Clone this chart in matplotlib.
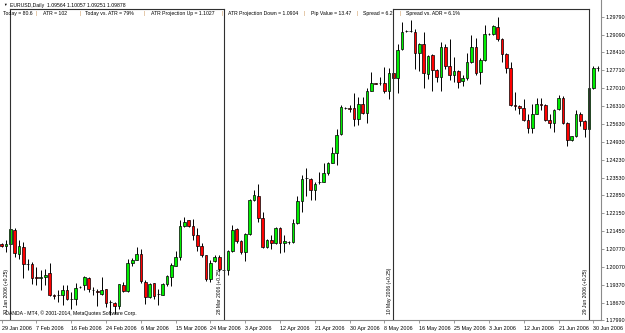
import numpy as np
import matplotlib.pyplot as plt
from matplotlib.transforms import blended_transform_factory

# === EURUSD Daily, 29 Jan 2006 .. 2 Jul 2006 (Sun-Fri bars) ===
opens = [1.2093, 1.2085, 1.2093, 1.2150, 1.2054, 1.2083, 1.2015, 1.2015, 1.1966, 1.1964,
         1.1966, 1.1980, 1.1895, 1.1897, 1.1897, 1.1915, 1.1880, 1.1880, 1.1927, 1.1934,
         1.1964, 1.1917, 1.1913, 1.1902, 1.1918, 1.1869, 1.1866, 1.1852, 1.1937, 1.1911,
         1.2021, 1.2034, 1.2054, 1.1947, 1.1889, 1.1943, 1.1901, 1.1898, 1.1940, 1.1966,
         1.2009, 1.2044, 1.2165, 1.2187, 1.2165, 1.2129, 1.2086, 1.2051, 1.1958, 1.2028,
         1.2044, 1.1992, 1.1992, 1.2066, 1.2152, 1.2106, 1.2063, 1.2135, 1.2265, 1.2282,
         1.2194, 1.2083, 1.2109, 1.2099, 1.2157, 1.2099, 1.2102, 1.2102, 1.2178, 1.2261,
         1.2350, 1.2349, 1.2304, 1.2336, 1.2336, 1.2371, 1.2411, 1.2450, 1.2521, 1.2622,
         1.2622, 1.2625, 1.2580, 1.2641, 1.2606, 1.2690, 1.2720, 1.2722, 1.2722, 1.2690,
         1.2759, 1.2739, 1.2852, 1.2924, 1.2924, 1.2921, 1.2836, 1.2872, 1.2756, 1.2830,
         1.2771, 1.2746, 1.2860, 1.2787, 1.2752, 1.2768, 1.2729, 1.2739, 1.2801, 1.2862,
         1.2762, 1.2810, 1.2912, 1.2911, 1.2940, 1.2891, 1.2832, 1.2781, 1.2637, 1.2631,
         1.2624, 1.2576, 1.2546, 1.2602, 1.2641, 1.2637, 1.2579, 1.2567, 1.2618, 1.2664,
         1.2567, 1.2498, 1.2514, 1.2599, 1.2572, 1.2543, 1.2703, 1.2778]
highs = [1.2097, 1.2110, 1.2158, 1.2158, 1.2110, 1.2103, 1.2038, 1.2025, 1.2005, 1.1993,
         1.1999, 1.2019, 1.1899, 1.1915, 1.1934, 1.1934, 1.1908, 1.1944, 1.1930, 1.1969,
         1.1966, 1.1927, 1.1921, 1.1966, 1.1921, 1.1875, 1.1869, 1.1941, 1.1947, 1.2038,
         1.2041, 1.2084, 1.2077, 1.1954, 1.1944, 1.1944, 1.1921, 1.1943, 1.1976, 1.2021,
         1.2067, 1.2187, 1.2200, 1.2190, 1.2191, 1.2158, 1.2099, 1.2053, 1.2031, 1.2051,
         1.2051, 1.1999, 1.2070, 1.2170, 1.2158, 1.2109, 1.2138, 1.2268, 1.2304, 1.2327,
         1.2220, 1.2116, 1.2129, 1.2161, 1.2161, 1.2129, 1.2106, 1.2193, 1.2281, 1.2363,
         1.2391, 1.2352, 1.2336, 1.2375, 1.2408, 1.2414, 1.2472, 1.2544, 1.2635, 1.2626,
         1.2635, 1.2684, 1.2667, 1.2667, 1.2700, 1.2762, 1.2723, 1.2746, 1.2785, 1.2778,
         1.2785, 1.2872, 1.2957, 1.2927, 1.2967, 1.2931, 1.2876, 1.2918, 1.2830, 1.2833,
         1.2775, 1.2882, 1.2872, 1.2891, 1.2823, 1.2771, 1.2752, 1.2839, 1.2908, 1.2895,
         1.2820, 1.2947, 1.2915, 1.2947, 1.2979, 1.2895, 1.2836, 1.2804, 1.2686, 1.2634,
         1.2657, 1.2602, 1.2641, 1.2661, 1.2661, 1.2638, 1.2602, 1.2618, 1.2674, 1.2670,
         1.2570, 1.2516, 1.2615, 1.2609, 1.2576, 1.2706, 1.2787, 1.2787]
lows = [1.2082, 1.2064, 1.2090, 1.2045, 1.2035, 1.1963, 1.1993, 1.1941, 1.1934, 1.1915,
        1.1934, 1.1892, 1.1882, 1.1869, 1.1856, 1.1876, 1.1843, 1.1856, 1.1925, 1.1915,
        1.1908, 1.1895, 1.1852, 1.1895, 1.1850, 1.1820, 1.1824, 1.1843, 1.1908, 1.1908,
        1.2008, 1.2032, 1.1944, 1.1862, 1.1885, 1.1882, 1.1856, 1.1895, 1.1933, 1.1933,
        1.2008, 1.2031, 1.2161, 1.2161, 1.2112, 1.2067, 1.2044, 1.1949, 1.1947, 1.2025,
        1.1988, 1.1973, 1.1973, 1.2063, 1.2099, 1.2057, 1.2028, 1.2128, 1.2261, 1.2181,
        1.2080, 1.2080, 1.2077, 1.2096, 1.2060, 1.2064, 1.2096, 1.2099, 1.2174, 1.2220,
        1.2281, 1.2265, 1.2265, 1.2330, 1.2336, 1.2362, 1.2408, 1.2401, 1.2518, 1.2618,
        1.2609, 1.2553, 1.2557, 1.2599, 1.2567, 1.2690, 1.2716, 1.2713, 1.2681, 1.2658,
        1.2735, 1.2683, 1.2850, 1.2920, 1.2921, 1.2775, 1.2768, 1.2700, 1.2735, 1.2690,
        1.2726, 1.2690, 1.2775, 1.2732, 1.2726, 1.2700, 1.2709, 1.2732, 1.2797, 1.2752,
        1.2719, 1.2807, 1.2908, 1.2908, 1.2885, 1.2804, 1.2761, 1.2632, 1.2615, 1.2602,
        1.2572, 1.2528, 1.2528, 1.2599, 1.2615, 1.2572, 1.2546, 1.2531, 1.2615, 1.2563,
        1.2475, 1.2495, 1.2511, 1.2554, 1.2511, 1.2537, 1.2698, 1.2767]
closes = [1.2085, 1.2093, 1.2152, 1.2058, 1.2087, 1.2015, 1.2016, 1.1963, 1.1964, 1.1966,
          1.1976, 1.1895, 1.1894, 1.1898, 1.1915, 1.1880, 1.1881, 1.1925, 1.1928, 1.1966,
          1.1918, 1.1916, 1.1908, 1.1917, 1.1866, 1.1868, 1.1852, 1.1938, 1.1911, 1.2021,
          1.2034, 1.2054, 1.1950, 1.1889, 1.1941, 1.1891, 1.1902, 1.1940, 1.1969, 1.2012,
          1.2044, 1.2165, 1.2181, 1.2165, 1.2129, 1.2086, 1.2051, 1.1958, 1.2021, 1.2044,
          1.1996, 1.1993, 1.2066, 1.2151, 1.2106, 1.2063, 1.2135, 1.2265, 1.2285, 1.2194,
          1.2083, 1.2109, 1.2099, 1.2157, 1.2099, 1.2105, 1.2103, 1.2178, 1.2261, 1.2346,
          1.2352, 1.2304, 1.2330, 1.2337, 1.2369, 1.2411, 1.2450, 1.2518, 1.2626, 1.2622,
          1.2621, 1.2580, 1.2641, 1.2606, 1.2690, 1.2720, 1.2719, 1.2723, 1.2690, 1.2759,
          1.2739, 1.2850, 1.2921, 1.2923, 1.2923, 1.2836, 1.2872, 1.2759, 1.2827, 1.2771,
          1.2746, 1.2860, 1.2787, 1.2752, 1.2768, 1.2726, 1.2739, 1.2804, 1.2862, 1.2761,
          1.2810, 1.2911, 1.2911, 1.2943, 1.2891, 1.2832, 1.2781, 1.2637, 1.2631, 1.2624,
          1.2576, 1.2546, 1.2602, 1.2641, 1.2635, 1.2579, 1.2567, 1.2615, 1.2664, 1.2567,
          1.2498, 1.2514, 1.2599, 1.2572, 1.2541, 1.2703, 1.2781, 1.2779]

# подписи оси времени (каждые 8 баров)
date_labels = ["29 Jan 2006", "7 Feb 2006", "16 Feb 2006", "24 Feb 2006", "6 Mar 2006",
               "15 Mar 2006", "24 Mar 2006", "3 Apr 2006", "12 Apr 2006", "21 Apr 2006",
               "30 Apr 2006", "8 May 2006", "16 May 2006", "25 May 2006", "3 Jun 2006",
               "12 Jun 2006", "21 Jun 2006", "30 Jun 2006"]
price_ticks = [1.29790, 1.29090, 1.28410, 1.27710, 1.27010, 1.26310, 1.25630, 1.24930,
               1.24230, 1.23530, 1.22850, 1.22150, 1.21450, 1.20770, 1.20070, 1.19370,
               1.18670, 1.17990]

# вертикальные линии (индекс бара, подпись)
vline_bars = [2, 51, 90, 135]
vline_labels = ["31 Jan 2006 (+0.25)", "28 Mar 2006 (+0.25)",
                "10 May 2006 (+0.25)", "29 Jun 2006 (+0.25)"]

header = "EURUSD,Daily  1.09564 1.10057 1.09251 1.09878"
info_items = ["Today = 80.6", "ATR = 102", "Today vs. ATR = 79%", "ATR Projection Up = 1.1027",
              "ATR Projection Down = 1.0904", "Pip Value = 13.47", "Spread = 6.2",
              "Spread vs. ADR = 6.1%"]
info_x = [3.3, 43, 85, 150.7, 227.7, 311, 363.3, 406]
sep_x = [36, 79, 143, 221.7, 303.3, 356.7, 399.3]
copyright = "OANDA - MT4, \u00a9 2001-2014, MetaQuotes Software Corp."

W, H = 625, 333
FONT = ['Liberation Sans', 'DejaVu Sans']
plt.rcParams['font.family'] = FONT

fig = plt.figure(figsize=(W / 100, H / 100), dpi=100)
fig.patch.set_facecolor('white')
ax = fig.add_axes([0, 13 / H, 601 / W, 320 / H])
ax.set_facecolor('white')

n = len(opens)
x = np.arange(n)
o = np.array(opens); h = np.array(highs); l = np.array(lows); c = np.array(closes)
up = c >= o

# тени
ax.vlines(x, l, h, color='black', linewidth=0.7, zorder=2)
# тела свечей
body_lo = np.minimum(o, c)
body_h = np.maximum(np.abs(c - o), 0.00001)
ax.bar(x[up], body_h[up], bottom=body_lo[up], width=0.62, color='#00ee00',
       edgecolor='black', linewidth=0.5, zorder=3)
ax.bar(x[~up], body_h[~up], bottom=body_lo[~up], width=0.62, color='#ff0000',
       edgecolor='black', linewidth=0.5, zorder=3)

ax.set_xlim(-0.39, 137.77)
ax.set_ylim(1.17990, 1.30440)

# вертикальные линии и рамки
bt = blended_transform_factory(ax.transData, ax.transAxes)
top_y = 1 - 9 / 320
for b, lab in zip(vline_bars, vline_labels):
    ax.plot([b, b], [0, top_y], transform=bt, color='#303030', linewidth=0.8, zorder=4)
    ax.text(b - 0.25, 6 / 320, lab, transform=bt, rotation=90, ha='right', va='bottom',
            fontsize=3.6, color='black', zorder=5)
for b0, b1 in [(vline_bars[0], vline_bars[1]), (vline_bars[2], vline_bars[3])]:
    ax.plot([b0, b1], [top_y, top_y], transform=bt, color='#303030', linewidth=0.8, zorder=4)

# оси
for s in ['top', 'left']:
    ax.spines[s].set_visible(False)
for s in ['right', 'bottom']:
    ax.spines[s].set_color('#8a8a8a')
    ax.spines[s].set_linewidth(0.8)

ax.yaxis.tick_right()
ax.set_yticks(price_ticks)
ax.set_yticklabels([f"{p:.5f}" for p in price_ticks])
ax.tick_params(axis='y', direction='out', length=2, width=0.6, color='#8a8a8a',
               labelsize=3.9, pad=1, labelcolor='black')
ax.set_xticks(np.arange(0, n, 8)[:len(date_labels)])
ax.set_xticklabels(date_labels, ha='left')
ax.tick_params(axis='x', direction='out', length=2.5, width=0.6, color='#8a8a8a',
               labelsize=3.9, pad=1.5, labelcolor='black')

# тексты
def fx(px):
    return px / W

def fy(py):
    return 1 - py / H

fig.text(fx(3), fy(5.3), "\u25bc", fontsize=2.6, va='center', ha='left', color='black')
fig.text(fx(10), fy(5.3), header, fontsize=3.7, va='center', ha='left', color='black')
for xs, s in zip(info_x, info_items):
    fig.text(fx(xs), fy(13.3), s, fontsize=3.7, va='center', ha='left', color='black')
for xs in sep_x:
    fig.text(fx(xs), fy(13.3), "|", fontsize=3.7, va='center', ha='left', color='#c89050')
fig.text(fx(5), fy(313), copyright, fontsize=3.7, va='center', ha='left', color='black')

plt.savefig("out.png", dpi=100, facecolor='white')
plt.close()
